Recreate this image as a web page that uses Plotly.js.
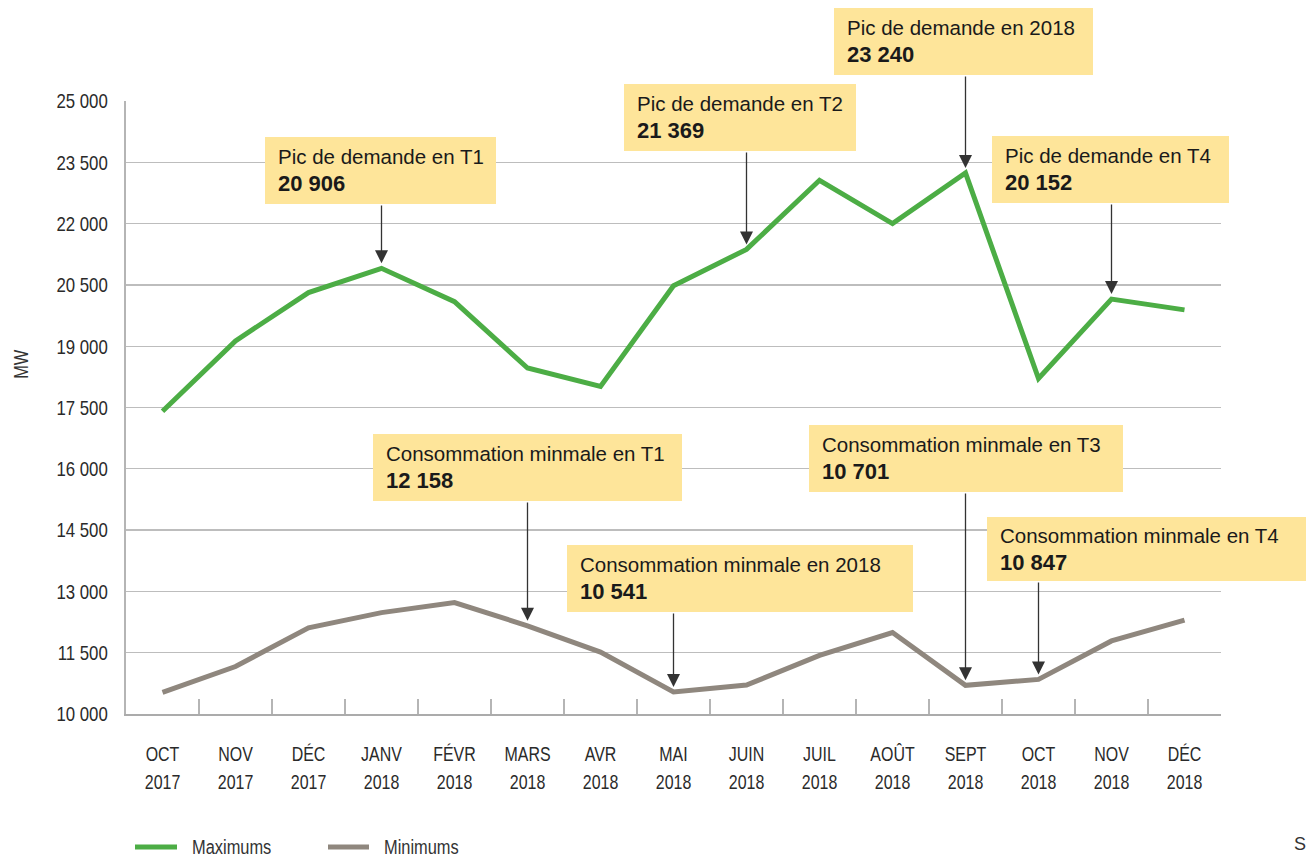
<!DOCTYPE html>
<html>
<head>
<meta charset="utf-8">
<script src="https://cdn.plot.ly/plotly-3.0.1.min.js"></script>
<style>
  html, body { margin: 0; padding: 0; background: #fff; }
  #chart { width: 1308px; height: 857px; }
</style>
</head>
<body>
<div id="chart"></div>
<script>
// ---------- data ----------
const months = ["OCT", "NOV", "DÉC", "JANV", "FÉVR", "MARS", "AVR", "MAI", "JUIN", "JUIL", "AOÛT", "SEPT", "OCT", "NOV", "DÉC"];
const years  = ["2017", "2017", "2017", "2018", "2018", "2018", "2018", "2018", "2018", "2018", "2018", "2018", "2018", "2018", "2018"];
const categories = months.map((m, i) => m + " " + years[i]);
const maximums = [17410, 19131, 20311, 20906, 20090, 18467, 18016, 20480, 21369, 23060, 22000, 23240, 18209, 20152, 19889];
const minimums = [10528, 11162, 12110, 12481, 12728, 12158, 11516, 10541, 10709, 11434, 11994, 10701, 10847, 11788, 12299];
const yTicks = [10000, 11500, 13000, 14500, 16000, 17500, 19000, 20500, 22000, 23500, 25000];
const seriesNames = ["Maximums", "Minimums"];
const yTitle = "MW";
const sourceText = "S";

// callouts: series, index into series, title
const calloutTitles = [
  "Pic de demande en T1", "Pic de demande en T2", "Pic de demande en 2018", "Pic de demande en T4",
  "Consommation minmale en T1", "Consommation minmale en 2018", "Consommation minmale en T3", "Consommation minmale en T4"
];
const calloutSeries = ["max", "max", "max", "max", "min", "min", "min", "min"];
const calloutIndex = [3, 8, 11, 13, 5, 7, 11, 12];

// ---------- layout geometry ----------
const W = 1308, H = 857;
const M = { l: 126, r: 87, t: 101, b: 143, pad: 0 };
const PW = W - M.l - M.r, PH = H - M.t - M.b;
const Y0 = 10000, Y1 = 25000;
const paperX = px => (px - M.l) / PW;
const paperY = py => (H - M.b - py) / PH;
const pixY = v => M.t + (Y1 - v) / (Y1 - Y0) * PH;

// box rectangles in pixels [left, top, right, bottom]
const boxes = [
  [265, 137, 496, 204],
  [624, 84, 856, 151],
  [834, 8, 1093, 75],
  [992, 136, 1229, 203],
  [373, 434, 682, 501],
  [567, 545, 913, 612],
  [809, 425, 1123, 492],
  [987, 517, 1306, 581]
];

const COND = '"Liberation Sans", Arial, sans-serif';
const BOXFONT = '"Liberation Sans", Arial, sans-serif';
const fmt = v => String(v).replace(/\B(?=(\d{3})+(?!\d))/g, " ");

const GREEN = "#4cad45";
const GREY = "#8f877e";
const COLORS = [GREEN, GREY];

const traces = [
  { x: categories, y: maximums, name: seriesNames[0], type: "scatter", mode: "lines",
    line: { color: GREEN, width: 5 }, hoverinfo: "x+y" },
  { x: categories, y: minimums, name: seriesNames[1], type: "scatter", mode: "lines",
    line: { color: GREY, width: 5 }, hoverinfo: "x+y" }
];

const shapes = [];
const annotations = [];
const condensedAnn = [];

calloutTitles.forEach((t, i) => {
  const b = boxes[i];
  const data = calloutSeries[i] === "max" ? maximums : minimums;
  const v = data[calloutIndex[i]];
  shapes.push({
    type: "rect", xref: "paper", yref: "paper",
    x0: paperX(b[0]), x1: paperX(b[2]), y0: paperY(b[3]), y1: paperY(b[1]),
    fillcolor: "#fee59a", line: { width: 0 }, layer: "above"
  });
  annotations.push({
    xref: "paper", yref: "paper", x: paperX(b[0] + 11), y: paperY((b[1] + b[3]) / 2),
    xanchor: "left", yanchor: "middle", align: "left", showarrow: false,
    text: t + "<br><b><span style='font-size:22px'>" + fmt(v) + "</span></b>",
    font: { family: BOXFONT, size: 20.5, color: "#1a1a1a" }
  });
  const pY = pixY(v);
  annotations.push({
    xref: "x", yref: "y", x: categories[calloutIndex[i]], y: v,
    ax: 0, ay: b[3] - pY, showarrow: true, text: "",
    arrowhead: 2, arrowsize: 2, arrowwidth: 1.3, arrowcolor: "#333", standoff: 5
  });
});

// y-axis title
condensedAnn.push(annotations.length);
annotations.push({
  xref: "paper", yref: "paper", x: paperX(21), y: paperY(364), textangle: -90,
  xanchor: "center", yanchor: "middle", showarrow: false, text: yTitle,
  font: { family: COND, size: 20, color: "#333" }
});
// source (cut at the page edge in the original)
annotations.push({
  xref: "paper", yref: "paper", x: paperX(1308), y: paperY(844),
  xanchor: "right", yanchor: "middle", showarrow: false, text: sourceText,
  font: { family: COND, size: 18, color: "#333" }
});

// manual legend
const legendLine = [[135, 177], [328, 369]];
const legendText = [190, 382];
const legendY = 847;
seriesNames.forEach((n, i) => {
  shapes.push({
    type: "line", xref: "paper", yref: "paper",
    x0: paperX(legendLine[i][0]), x1: paperX(legendLine[i][1]), y0: paperY(legendY), y1: paperY(legendY),
    line: { color: COLORS[i], width: 5 }
  });
  condensedAnn.push(annotations.length);
  annotations.push({
    xref: "paper", yref: "paper", x: paperX(legendText[i]), y: paperY(legendY),
    xanchor: "left", yanchor: "middle", align: "left", showarrow: false, text: n,
    font: { family: COND, size: 20, color: "#333" }
  });
});

const layout = {
  width: W, height: H,
  margin: M,
  paper_bgcolor: "#fff", plot_bgcolor: "#fff",
  separators: ", ",
  showlegend: false,
  xaxis: {
    type: "category", range: [-0.5, 14.5], fixedrange: true, automargin: false,
    tickvals: categories, ticktext: months.map((m, i) => m + "<br>" + years[i]),
    tickson: "boundaries", ticks: "inside", ticklen: 15, tickwidth: 1.3, tickcolor: "#b5b5b5",
    showline: true, linecolor: "#ababab", linewidth: 2, showgrid: false, zeroline: false,
    ticklabelstandoff: 20,
    tickfont: { family: COND, size: 21, color: "#2a2a2a" }
  },
  yaxis: {
    range: [Y0, Y1], fixedrange: true, automargin: false, tickvals: yTicks, tickformat: ",d",
    showline: true, linecolor: "#b5b5b5", linewidth: 2,
    showgrid: true, gridcolor: "#bdbdbd", gridwidth: 1.3, zeroline: false,
    ticks: "", ticklabelstandoff: 12,
    tickfont: { family: COND, size: 21, color: "#2a2a2a" }
  },
  shapes: shapes,
  annotations: annotations
};

function squeeze(elements, f) {
  elements.forEach(el => {
    const lines = el.querySelectorAll("tspan.line");
    const targets = lines.length ? Array.from(lines) : [el];
    targets.forEach(t => {
      const L = t.getComputedTextLength();
      if (L > 0) {
        t.setAttribute("textLength", (L * f).toFixed(2));
        t.setAttribute("lengthAdjust", "spacingAndGlyphs");
      }
    });
  });
}

Plotly.newPlot("chart", traces, layout, { displayModeBar: false, staticPlot: true }).then(gd => {
  squeeze(Array.from(gd.querySelectorAll(".ytick text")), 0.8);
  squeeze(Array.from(gd.querySelectorAll(".xtick text")), 0.76);
  const anns = gd.querySelectorAll("g.annotation");
  anns.forEach(g => {
    const idx = +g.getAttribute("data-index");
    if (condensedAnn.includes(idx)) squeeze(Array.from(g.querySelectorAll("text.annotation-text")), 0.82);
  });
});
</script>
</body>
</html>
